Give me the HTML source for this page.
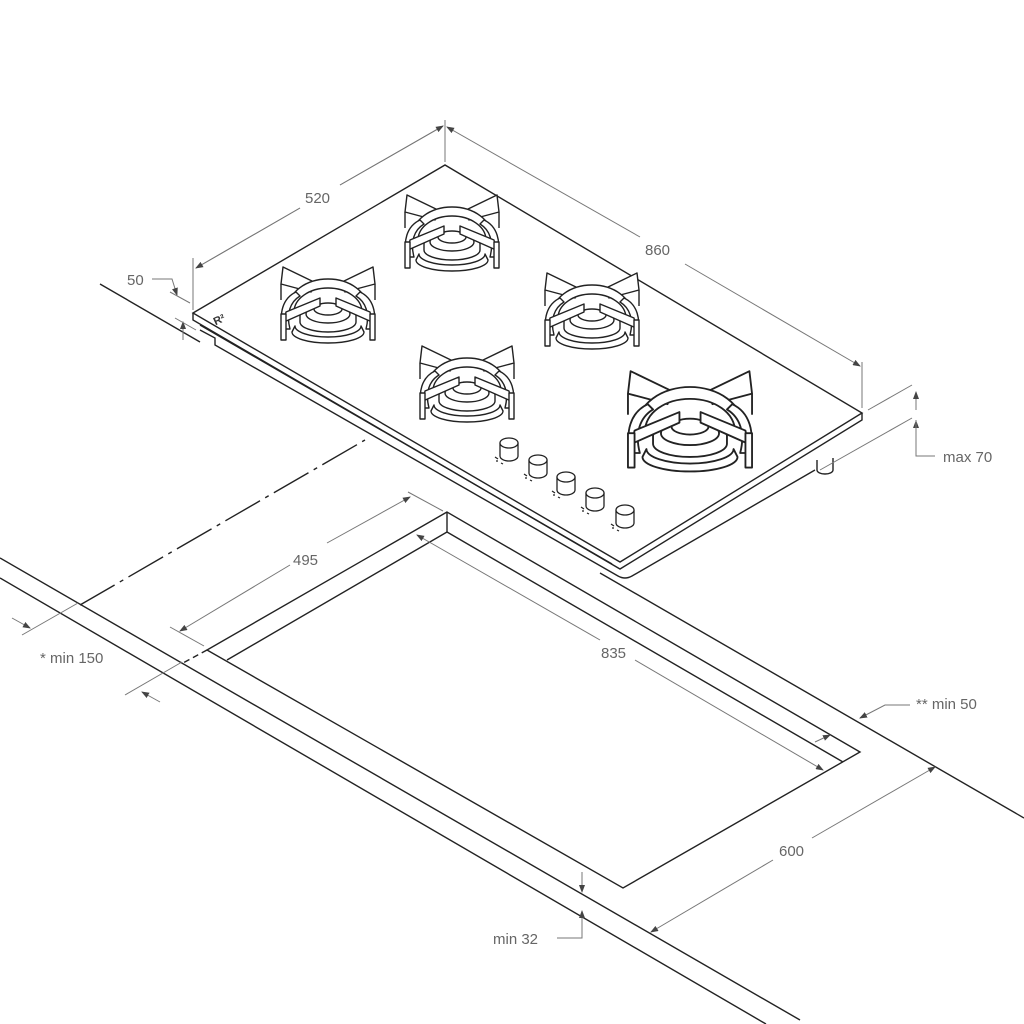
<!DOCTYPE html>
<html><head><meta charset="utf-8"><style>
html,body{margin:0;padding:0;background:#fff;}
svg{display:block;}
text{font-family:"Liberation Sans",sans-serif;font-size:15px;fill:#666;}
</style></head><body>
<svg width="1024" height="1024" viewBox="0 0 1024 1024" xmlns="http://www.w3.org/2000/svg">
<defs>
<marker id="ar" markerWidth="8" markerHeight="6" refX="7" refY="3" orient="auto" markerUnits="userSpaceOnUse"><path d="M0,0 L8,3 L0,6 z" fill="#444"/></marker>
<g id="burner" fill="#fff" stroke="#222" stroke-width="1.4" stroke-linejoin="round">
  <!-- back arms -->
  <path d="M-47,-20 L-45,-37 L-14,-22 L-17,-12 Z"/>
  <path d="M47,-20 L45,-37 L14,-22 L17,-12 Z"/>
  <line x1="-47" y1="-20" x2="-47" y2="-4"/>
  <line x1="47" y1="-20" x2="47" y2="-4"/>
  <!-- burner rings -->
  <path d="M-36,28 A36,11 0 0 0 36,28 L33,22 A33,11 0 0 1 -33,22 Z"/>
  <path d="M-28,18 A28,10 0 0 0 28,18 L28,12 A28,10 0 0 0 -28,12 Z"/>
  <ellipse cx="0" cy="10" rx="22" ry="9"/>
  <ellipse cx="0" cy="5" rx="14" ry="6"/>
  <!-- ring support arc -->
  <path d="M-40,5 A40,30 0 0 1 40,5 L34,8 A34,24 0 0 0 -34,8 Z"/>
  <path d="M-44,25 C-50,10 -45,-6 -32,-12 L-28,-8 C-38,-2 -42,10 -38,25 Z"/>
  <path d="M44,25 C50,10 45,-6 32,-12 L28,-8 C38,-2 42,10 38,25 Z"/>
  <!-- front arms -->
  <path d="M-44,18 L-42,8 L-8,-6 L-8,2 Z"/>
  <path d="M44,18 L42,8 L8,-6 L8,2 Z"/>
  <path d="M-47,10 L-42,10 L-42,36 L-47,36 Z"/>
  <path d="M47,10 L42,10 L42,36 L47,36 Z"/>
</g>
<g id="knob" fill="#fff" stroke="#222" stroke-width="1.3">
  <path d="M-9,0 L-9,13 A9,5 0 0 0 9,13 L9,0"/>
  <ellipse cx="0" cy="0" rx="9" ry="5"/>
  <path d="M-14,14 l3,2 M-13,18 l2,0 M-8,20 l2,1" stroke-width="1.2"/>
</g>
</defs>

<g fill="none" stroke="#222" stroke-width="1.4">
  <!-- countertop lines -->
  <line x1="0" y1="558" x2="800" y2="1020"/>
  <line x1="0" y1="578" x2="766" y2="1024"/>
  <line x1="100" y1="284" x2="200" y2="342"/>
  <line x1="600" y1="573" x2="1024" y2="818"/>
  <line x1="80" y1="605" x2="365" y2="440" stroke-dasharray="40,6,4,6"/>
  <line x1="207" y1="650" x2="183" y2="663" stroke-dasharray="6,4"/>
  <!-- cutout -->
  <path d="M447,512 L207,650 L623,888 L860,752 Z"/>
  <line x1="447" y1="512" x2="447" y2="532"/>
  <line x1="447" y1="532" x2="227" y2="660"/>
  <line x1="447" y1="532" x2="843" y2="762"/>

  <!-- hob -->
  <path d="M200,330 L215,338 L215,345 L618,576 Q625,580 632,576 L815,470"/>
  <path d="M193,313 L193,320 L620,569 L862,420 L862,413"/>
  <path d="M200,325 L612,564"/>
  <path d="M193,313 L445,165 L862,413 L620,562 Z" fill="#fff"/>
  <path d="M817,460 L817,470 A8,4 0 0 0 833,470 L833,458" fill="#fff"/>
</g>
<text x="213" y="322" style="font-size:11px;font-weight:bold;fill:#333" transform="rotate(-25 222 318)">R²</text>

<use href="#burner" transform="translate(452,232)"/>
<use href="#burner" transform="translate(328,304)"/>
<use href="#burner" transform="translate(592,310)"/>
<use href="#burner" transform="translate(467,383)"/>
<use href="#burner" transform="translate(690,420) scale(1.32)"/>

<use href="#knob" transform="translate(509,443)"/>
<use href="#knob" transform="translate(538,460)"/>
<use href="#knob" transform="translate(566,477)"/>
<use href="#knob" transform="translate(595,493)"/>
<use href="#knob" transform="translate(625,510)"/>

<!-- dimensions -->
<g stroke="#777" stroke-width="1" fill="none">
  <line x1="193" y1="310" x2="193" y2="258"/>
  <line x1="445" y1="162" x2="445" y2="120"/>
  <path d="M196,268 L300,208 M340,185 L443,126" />
  <line x1="300" y1="208" x2="196" y2="268" marker-end="url(#ar)"/>
  <line x1="340" y1="185" x2="443" y2="126" marker-end="url(#ar)"/>
  <line x1="862" y1="408" x2="862" y2="362"/>
  <line x1="640" y1="237" x2="447" y2="127" marker-end="url(#ar)"/>
  <line x1="685" y1="264" x2="860" y2="366" marker-end="url(#ar)"/>
  <!-- 50 -->
  <path d="M152,279 L172,279 L177,295" marker-end="url(#ar)"/>
  <line x1="170" y1="292" x2="190" y2="303"/>
  <line x1="183" y1="340" x2="183" y2="322" marker-end="url(#ar)"/>
  <line x1="175" y1="318" x2="196" y2="330"/>
  <!-- max 70 -->
  <line x1="868" y1="410" x2="912" y2="385"/>
  <line x1="820" y1="470" x2="912" y2="418"/>
  <line x1="916" y1="410" x2="916" y2="392" marker-end="url(#ar)"/>
  <line x1="916" y1="440" x2="916" y2="421" marker-end="url(#ar)"/>
  <path d="M916,420 L916,456 L935,456"/>
  <!-- 495 -->
  <line x1="170" y1="627" x2="204" y2="646"/>
  <line x1="408" y1="492" x2="443" y2="511"/>
  <line x1="290" y1="565" x2="180" y2="631" marker-end="url(#ar)"/>
  <line x1="327" y1="543" x2="410" y2="497" marker-end="url(#ar)"/>
  <!-- 835 -->
  <line x1="600" y1="640" x2="417" y2="535" marker-end="url(#ar)"/>
  <line x1="635" y1="660" x2="823" y2="770" marker-end="url(#ar)"/>
  <line x1="815" y1="742" x2="830" y2="735" marker-end="url(#ar)"/>
  <!-- min 150 -->
  <line x1="22" y1="635" x2="78" y2="603"/>
  <line x1="12" y1="618" x2="30" y2="628" marker-end="url(#ar)"/>
  <line x1="125" y1="695" x2="182" y2="662"/>
  <line x1="160" y1="702" x2="142" y2="692" marker-end="url(#ar)"/>
  <!-- min 50 -->
  <path d="M910,705 L885,705 L860,718" marker-end="url(#ar)"/>
  <!-- 600 -->
  <line x1="773" y1="860" x2="651" y2="932" marker-end="url(#ar)"/>
  <line x1="812" y1="838" x2="935" y2="767" marker-end="url(#ar)"/>
  <!-- min 32 -->
  <line x1="582" y1="872" x2="582" y2="892" marker-end="url(#ar)"/>
  <line x1="582" y1="925" x2="582" y2="911" marker-end="url(#ar)"/>
  <path d="M582,920 L582,938 L557,938"/>
</g>
<text x="305" y="203">520</text>
<text x="645" y="255">860</text>
<text x="127" y="285">50</text>
<text x="943" y="462">max 70</text>
<text x="293" y="565">495</text>
<text x="601" y="658">835</text>
<text x="40" y="663">* min 150</text>
<text x="916" y="709">** min 50</text>
<text x="779" y="856">600</text>
<text x="493" y="944">min 32</text>
</svg>
</body></html>
